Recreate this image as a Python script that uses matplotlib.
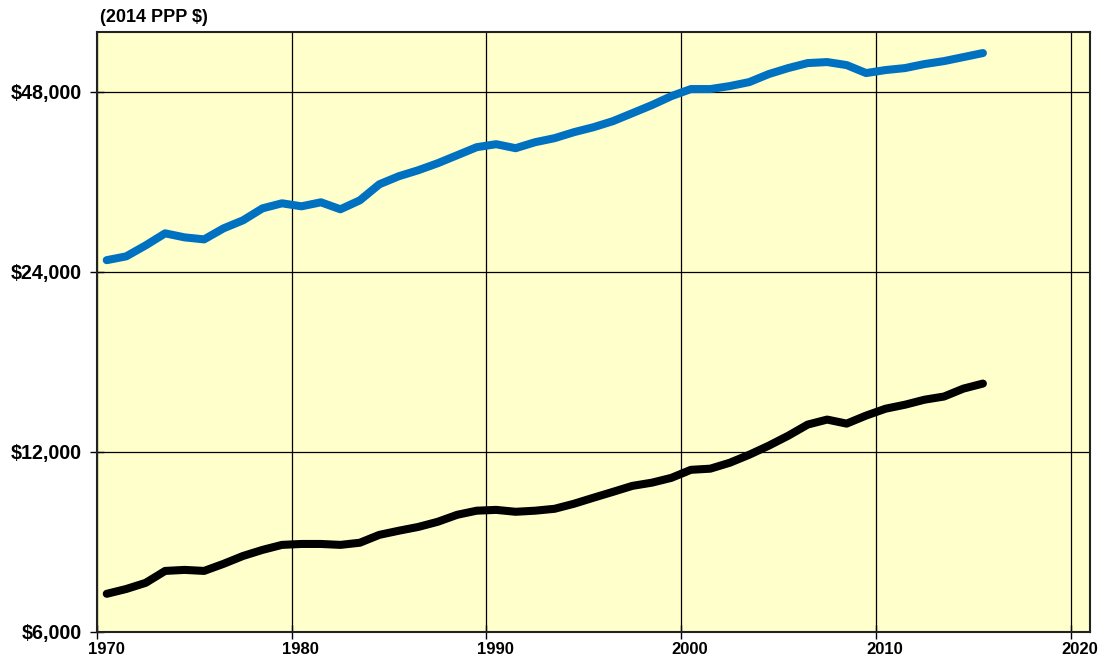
import matplotlib
matplotlib.use('Agg')
import matplotlib.pyplot as plt
from matplotlib.ticker import FixedLocator, NullLocator
import matplotlib.transforms as mtransforms
import numpy as np

plt.rcParams['font.family'] = ['Liberation Sans', 'DejaVu Sans']
plt.rcParams['font.weight'] = 'bold'

# mid-year points, 1970 .. 2015
years = np.arange(1970, 2016) + 0.5

upper = [25100, 25470, 26570, 27830, 27400, 27190, 28370, 29260, 30640, 31240,
         30880, 31360, 30530, 31600, 33610, 34670, 35480, 36450, 37590, 38770,
         39220, 38620, 39520, 40140, 41080, 41870, 42860, 44200, 45590, 47190,
         48490, 48490, 49050, 49810, 51370, 52570, 53590, 53800, 53180, 51570,
         52170, 52570, 53390, 54000, 54840, 55700]

lower = [6950, 7080, 7250, 7590, 7620, 7590, 7800, 8040, 8230, 8390,
         8420, 8420, 8390, 8460, 8720, 8860, 8990, 9170, 9420, 9570,
         9600, 9530, 9570, 9640, 9830, 10060, 10290, 10530, 10660, 10860,
         11200, 11250, 11510, 11870, 12290, 12770, 13330, 13590, 13380, 13800,
         14170, 14390, 14670, 14850, 15310, 15610]

y_ticks = [6000, 12000, 24000, 48000]
y_labels = ['$6,000', '$12,000', '$24,000', '$48,000']
x_ticks = [1970, 1980, 1990, 2000, 2010, 2020]

fig = plt.figure(figsize=(11.01, 6.6), dpi=100)
ax = fig.add_axes([97 / 1101, 1 - 632 / 660, (1090 - 97) / 1101, (632 - 32) / 660])
ax.set_facecolor('#FFFFCC')

ax.plot(years, upper, color='#0070C0', lw=5.8, solid_capstyle='round', zorder=3)
ax.plot(years, lower, color='black', lw=5.8, solid_capstyle='round', zorder=3)

ax.set_yscale('log')
ax.set_ylim(6000, 60400)
ax.set_xlim(1970, 2021)

ax.yaxis.set_major_locator(FixedLocator(y_ticks))
ax.yaxis.set_minor_locator(NullLocator())
ax.set_yticklabels(y_labels)
ax.set_xticks(x_ticks)
ax.set_xticklabels([str(x) for x in x_ticks])

ax.grid(True, color='black', lw=0.9, zorder=1)
ax.set_axisbelow(True)
ax.tick_params(axis='y', direction='inout', length=10, width=1, labelsize=14.2, pad=6)
ax.tick_params(axis='x', direction='inout', length=10, width=1, labelsize=12, pad=2)
shift = mtransforms.ScaledTranslation(9 / 100, 0, fig.dpi_scale_trans)
for lab in ax.get_xticklabels():
    lab.set_fontweight('bold')
    lab.set_transform(lab.get_transform() + shift)
for lab in ax.get_yticklabels():
    lab.set_fontweight('bold')

for s in ax.spines.values():
    s.set_linewidth(1.5)
    s.set_color('#222222')

fig.text(100 / 1101, 1 - 18 / 660, '(2014 PPP $)', fontsize=13, fontweight='bold',
         ha='left', va='center')

fig.savefig('out.png', dpi=100, facecolor='white')
